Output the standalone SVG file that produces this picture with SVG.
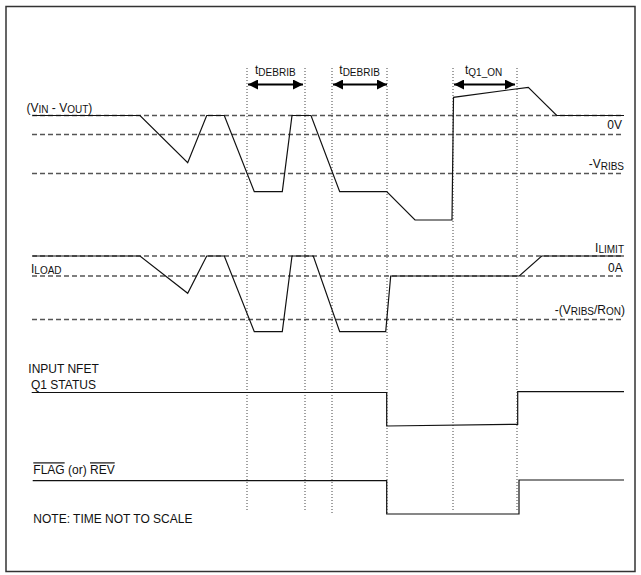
<svg xmlns="http://www.w3.org/2000/svg" width="641" height="575" viewBox="0 0 641 575">
<style>
text{font-family:"Liberation Sans",Arial,sans-serif;font-size:12px;fill:#111}
.s{font-size:10px}
.dash{stroke:#555;stroke-width:1.3;stroke-dasharray:5,3;fill:none}
.dot{stroke:#444;stroke-width:1;stroke-dasharray:1,2;fill:none}
.wave{stroke:#111;stroke-width:1.2;fill:none;stroke-linejoin:miter}
.arr{stroke:#000;stroke-width:2;fill:none}
</style>
<defs>
<marker id="ah" viewBox="0 0 10 10" refX="10" refY="5" markerWidth="10" markerHeight="10" markerUnits="userSpaceOnUse" orient="auto-start-reverse">
<path d="M0,0 L10,5 L0,10 z" fill="#000"/>
</marker>
</defs>
<rect x="6" y="6.5" width="629" height="565" fill="#fff" stroke="#333" stroke-width="1.5"/>
<g id="gridlines">
<line class="dash" x1="32" y1="115.5" x2="622" y2="115.5"/>
<line class="dash" x1="32" y1="134.5" x2="622" y2="134.5"/>
<line class="dash" x1="32" y1="173.5" x2="622" y2="173.5"/>
<line class="dash" x1="32" y1="256" x2="622" y2="256"/>
<line class="dash" x1="32" y1="276" x2="622" y2="276"/>
<line class="dash" x1="32" y1="319.5" x2="622" y2="319.5"/>
</g>
<g id="timing-markers">
<line class="dot" x1="247" y1="68" x2="247" y2="510"/>
<line class="dot" x1="305" y1="68" x2="305" y2="512"/>
<line class="dot" x1="332" y1="68" x2="332" y2="513"/>
<line class="dot" x1="387" y1="68" x2="387" y2="514"/>
<line class="dot" x1="453" y1="68" x2="453" y2="512"/>
<line class="dot" x1="517" y1="68" x2="517" y2="512"/>
</g>
<g id="connectors">
<line class="arr" x1="248" y1="84.5" x2="303" y2="84.5" marker-start="url(#ah)" marker-end="url(#ah)"/>
<line class="arr" x1="333" y1="84.5" x2="387" y2="84.5" marker-start="url(#ah)" marker-end="url(#ah)"/>
<line class="arr" x1="454" y1="84.5" x2="515" y2="84.5" marker-start="url(#ah)" marker-end="url(#ah)"/>
</g>
<g id="vin-vout">
<polyline class="wave" points="32.7,115.5 140,115.5 187.7,162.7 206.7,115.5 224.3,115.5 254.3,191.7 282.3,191.7 292,115.5 311,115.5 339.7,191.7 386.7,191.7 415,220 452,220 453.5,97.3 528.3,87.3 556.7,115.5 624,115.5"/>
<text x="26.5" y="111.5">(V<tspan class="s" dy="1">IN</tspan><tspan dy="-1"> - V</tspan><tspan class="s" dy="1">OUT</tspan><tspan dy="-1">)</tspan></text>
<text x="622" y="129.3" text-anchor="end">0V</text>
<text x="624" y="168.3" text-anchor="end">-V<tspan class="s" dy="1.5">RIBS</tspan></text>
</g>
<g id="iload">
<polyline class="wave" points="32.7,256 140,256 187.7,293.3 206.7,256 224.3,256 254.3,331.7 282.3,331.7 292,256 313.3,256 339.7,331.7 385.7,331.7 390.7,276 519.3,276 541.7,256 624,256"/>
<text x="31" y="273.3">I<tspan class="s" dy="1">LOAD</tspan></text>
<text x="624" y="251.5" text-anchor="end">I<tspan class="s" dy="1">LIMIT</tspan></text>
<text x="622.7" y="271.7" text-anchor="end">0A</text>
<text x="625" y="314" text-anchor="end">-(V<tspan class="s" dy="1">RIBS</tspan><tspan dy="-1">/R</tspan><tspan class="s" dy="1">ON</tspan><tspan dy="-1">)</tspan></text>
</g>
<g id="q1-status">
<polyline class="wave" points="31.7,392.5 386.7,392.5 386.7,426 517.7,424.3 517.7,391.7 624,391.7"/>
<text x="28.3" y="373.3">INPUT NFET</text>
<text x="31" y="389.3">Q1 STATUS</text>
</g>
<g id="flag-rev">
<polyline class="wave" points="32.7,480.7 386.7,480.7 386.7,514 519,514 519,480 624,480"/>
<text x="33.3" y="474.3"><tspan text-decoration="overline">FLAG</tspan> (or) <tspan text-decoration="overline">REV</tspan></text>
</g>
<g id="labels">
<text x="255" y="74">t<tspan class="s" dy="2">DEBRIB</tspan></text>
<text x="339.3" y="74">t<tspan class="s" dy="2">DEBRIB</tspan></text>
<text x="465" y="74">t<tspan class="s" dy="2">Q1_ON</tspan></text>
<text x="33.3" y="523.3">NOTE: TIME NOT TO SCALE</text>
</g>
</svg>
